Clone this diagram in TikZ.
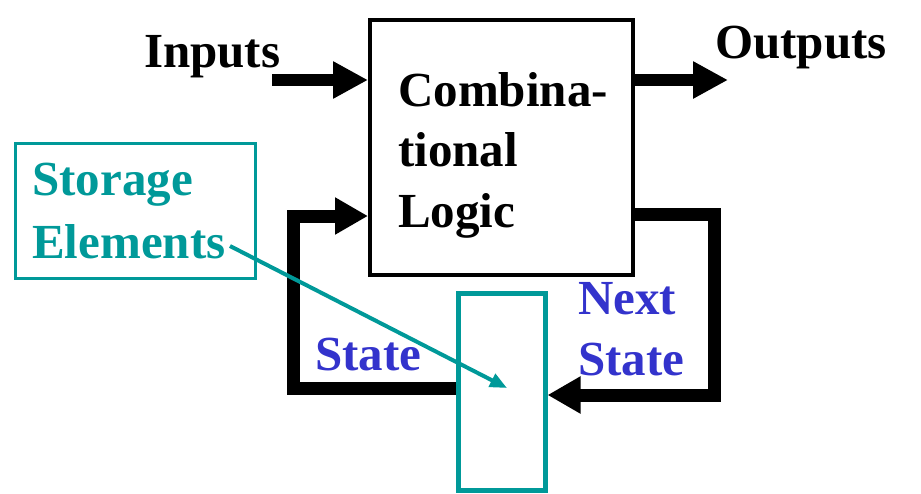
\documentclass[tikz,border=0pt]{standalone}
\usepackage{fontspec}
\setmainfont{Liberation Serif}
\usetikzlibrary{arrows.meta}
\definecolor{tealc}{HTML}{009999}
\definecolor{bluec}{HTML}{3333CC}
\begin{document}
\begin{tikzpicture}[x=1pt,y=-1pt,
  lbl/.style={inner sep=0pt, anchor=base west, align=left, font=\fontsize{49}{60.5}\selectfont\bfseries},
  bigarrow/.style={line width=12pt, line join=miter, -{Triangle[length=35pt,width=35pt]}},
  loop/.style={line width=13pt, line join=miter, -{Triangle[length=33pt,width=35pt]}}
]
\useasboundingbox (0,0) rectangle (921,493);
% boxes
\node[draw, line width=4pt, minimum width=263pt, minimum height=255pt, inner sep=0pt] (cl) at (501.5,147.5) {};
\node[draw=tealc, line width=5pt, minimum width=87pt, minimum height=197pt, inner sep=0pt] (st) at (501.5,391.5) {};
\node[draw=tealc, line width=3pt, minimum width=240pt, minimum height=135pt, inner sep=0pt] (sebox) at (135,210.5) {};
% labels (base anchor = baseline of the last line)
\node[lbl] (inputs) at (144,67) {Inputs};
\node[lbl] (outputs) at (715,58) {Outputs};
\node[lbl] (cltext) at (398,227) {Combina-\\tional\\Logic};
\node[lbl, text=bluec] (state) at (315,370) {State};
\node[lbl, text=bluec] (nstate) at (578,375) {Next\\State};
\node[lbl, text=tealc, font=\fontsize{49}{63}\selectfont\bfseries] (setext) at (32,258) {Storage\\Elements};
% coordinates
\coordinate (inS) at (272,80);
\coordinate (outE) at (728,80);
\coordinate (sA) at (293,388);
\coordinate (sB) at (293,216);
\coordinate (nA) at (714,214);
\coordinate (nB) at (714,395);
\coordinate (seL) at (230,246);
\coordinate (stIn) at (507,388);
% arrows
\draw[bigarrow] (inS) -- (cl.west |- inS);
\draw[bigarrow] (cl.east |- outE) -- (outE);
\draw[loop] (st.west |- sA) -- (sA) -- (sB) -- (cl.west |- sB);
\draw[loop] (cl.east |- nA) -- (nA) -- (nB) -- (st.east |- nB);
\draw[tealc, line width=4pt, -{Triangle[length=17pt,width=14pt]}] (seL) -- (stIn);
\end{tikzpicture}
\end{document}
